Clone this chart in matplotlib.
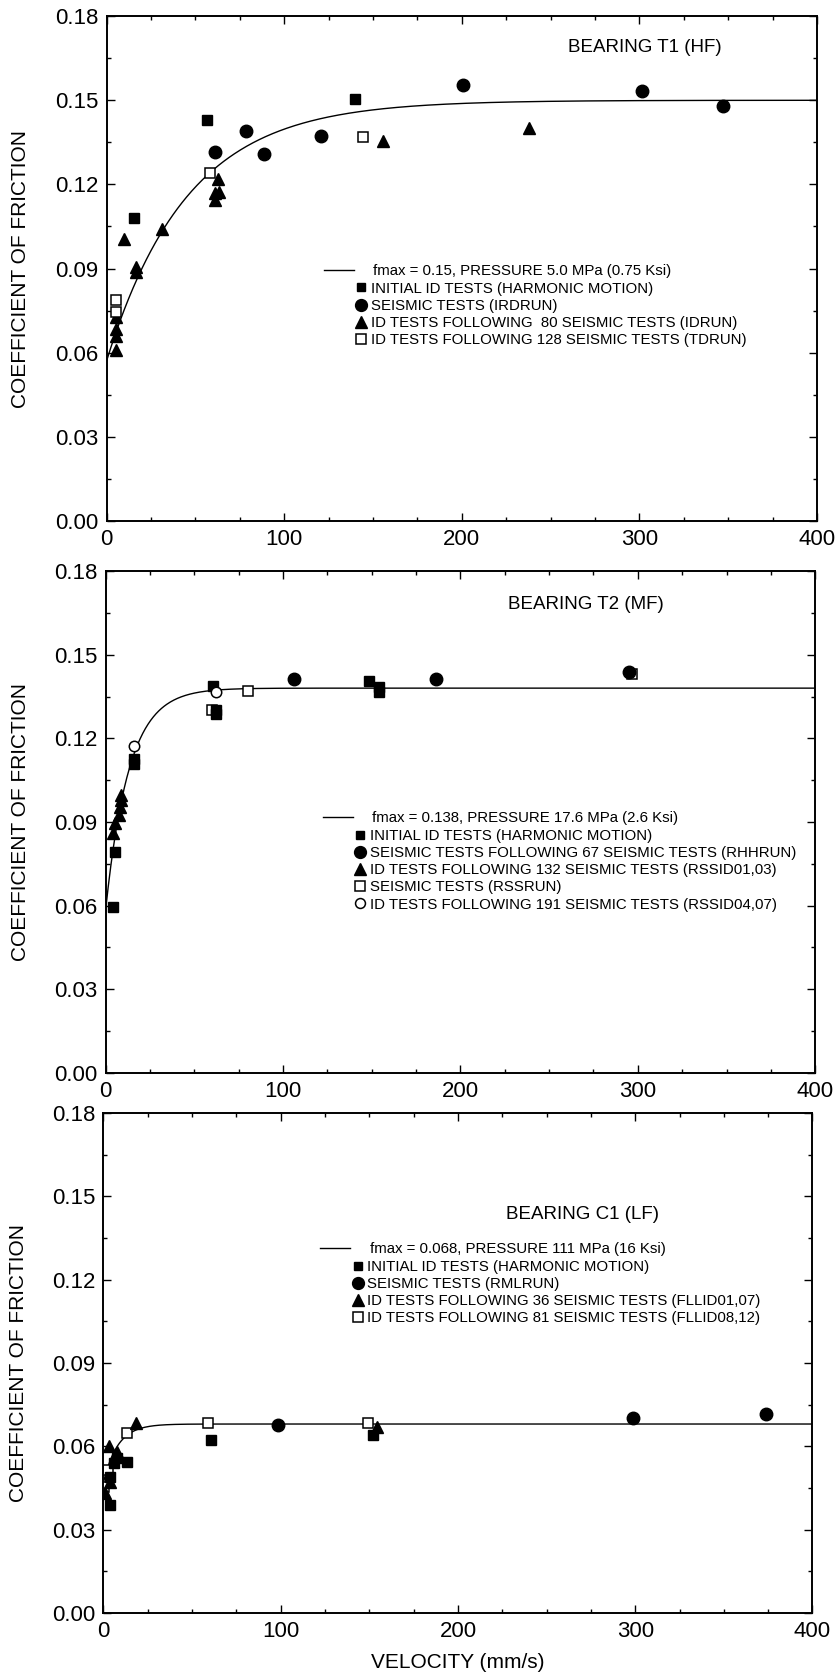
import numpy as np
import matplotlib
matplotlib.use("Agg")
import matplotlib.pyplot as plt
from matplotlib.lines import Line2D
from matplotlib.ticker import MultipleLocator, FormatStrFormatter

plt.rcParams["font.family"] = ["Liberation Sans", "DejaVu Sans"]

# ---- Bearing T1 (HF): velocity (mm/s) and coefficient of friction
t1_init_v = [56.8, 15.4, 140.1]
t1_init_f = [0.1429, 0.1079, 0.1503]
t1_seis_v = [60.9, 78.4, 88.8, 120.7, 200.7, 301.3, 347.3]
t1_seis_f = [0.1316, 0.1391, 0.1307, 0.1372, 0.1554, 0.1534, 0.148]
t1_idrun_v = [9.8, 16.4, 16.4, 31.4, 5.1, 5.1, 5.1, 5.1, 60.9, 60.9, 63.4, 62.8, 155.5, 238.0]
t1_idrun_f = [0.1005, 0.0906, 0.0889, 0.104, 0.0728, 0.0685, 0.066, 0.061,
              0.1144, 0.1168, 0.1174, 0.1221, 0.1356, 0.140]
t1_tdrun_v = [5.1, 5.1, 58.3, 144.6]
t1_tdrun_f = [0.0788, 0.0744, 0.1241, 0.137]
t1_fmax, t1_fmin, t1_rate = 0.15, 0.057, 0.022

# ---- Bearing T2 (MF)
t2_init_v = [60.5, 62.5, 62.5, 15.8, 15.8, 5.1, 4.5, 148.6, 154.2, 154.2]
t2_init_f = [0.1388, 0.1302, 0.1286, 0.1125, 0.1108, 0.0794, 0.0596, 0.1407, 0.1385, 0.1367]
t2_seis_v = [106.1, 186.0, 295.2]
t2_seis_f = [0.1412, 0.1413, 0.1439]
t2_id_v = [8.8, 8.8, 8.3, 7.8, 5.1, 4.1]
t2_id_f = [0.0997, 0.0979, 0.0955, 0.0925, 0.0895, 0.086]
t2_rss_v = [80.3, 60.0, 296.5]
t2_rss_f = [0.137, 0.1302, 0.1432]
t2_rssid_v = [15.8, 62.1]
t2_rssid_f = [0.1172, 0.1365]
t2_fmax, t2_fmin, t2_rate = 0.138, 0.058, 0.076

# ---- Bearing C1 (LF)
c1_init_v = [60.5, 7.5, 6.0, 13.5, 3.8, 3.6, 152.3]
c1_init_f = [0.0623, 0.0557, 0.0539, 0.0545, 0.049, 0.0389, 0.0641]
c1_seis_v = [98.2, 299.0, 374.0]
c1_seis_f = [0.0676, 0.0703, 0.0715]
c1_id_v = [18.6, 3.2, 7.5, 3.5, 1.0, 154.2]
c1_id_f = [0.0683, 0.0601, 0.058, 0.0473, 0.0431, 0.0671]
c1_fll_v = [13.5, 58.7, 2.3, 0.4, 149.3]
c1_fll_f = [0.0647, 0.0683, 0.0515, 0.0455, 0.0685]
c1_fmax, c1_fmin, c1_rate = 0.068, 0.047, 0.124

v_fit = np.linspace(0, 400, 801)


def friction_model(fmax, fmin, rate):
    return fmax - (fmax - fmin) * np.exp(-rate * v_fit)


SQ = dict(marker="s", ms=6.5, color="black", ls="none")
CI = dict(marker="o", ms=9, color="black", ls="none")
TR = dict(marker="^", ms=8.5, color="black", ls="none")
OSQ = dict(marker="s", ms=7, mfc="white", mec="black", mew=1.1, ls="none")
OCI = dict(marker="o", ms=7.5, mfc="white", mec="black", mew=1.1, ls="none")


def setup_axes(ax):
    ax.set_xlim(0, 400)
    ax.set_ylim(0, 0.18)
    ax.xaxis.set_major_locator(MultipleLocator(100))
    ax.xaxis.set_minor_locator(MultipleLocator(25))
    ax.yaxis.set_major_locator(MultipleLocator(0.03))
    ax.yaxis.set_minor_locator(MultipleLocator(0.015))
    ax.yaxis.set_major_formatter(FormatStrFormatter("%.2f"))
    ax.tick_params(which="both", direction="in", top=True, right=True, width=1.0)
    ax.tick_params(which="major", length=6, labelsize=16, pad=6)
    ax.tick_params(which="minor", length=3)
    for s in ax.spines.values():
        s.set_linewidth(1.4)
    ax.set_ylabel("COEFFICIENT OF FRICTION", fontsize=15)
    ax.yaxis.set_label_coords(-0.107, 0.5)


def add_legend(ax, line_label, line_y, entries, marks_y):
    line = Line2D([], [], color="black", lw=1.0)
    leg1 = ax.legend([line], [line_label], loc="center left", bbox_to_anchor=(0.306, line_y),
                     frameon=False, fontsize=10.8, handlelength=2.0, handletextpad=1.3,
                     borderpad=0, borderaxespad=0)
    ax.add_artist(leg1)
    handles = [Line2D([], [], **{**style, "ms": style["ms"] * 0.95}) for style, _ in entries]
    labels = [lab for _, lab in entries]
    ax.legend(handles, labels, loc="upper left", bbox_to_anchor=(0.350, marks_y),
              frameon=False, fontsize=10.8, handlelength=0.8, handletextpad=0.25,
              labelspacing=0.21, borderpad=0, borderaxespad=0, numpoints=1)


fig = plt.figure(figsize=(8.36, 16.77), dpi=100)
ax1 = fig.add_axes([0.1274, 0.6893, 0.850, 0.3011])
ax2 = fig.add_axes([0.1262, 0.3602, 0.849, 0.2993])
ax3 = fig.add_axes([0.1238, 0.0382, 0.848, 0.2982])

# Step 1: Bearing T1
setup_axes(ax1)
ax1.plot(v_fit, friction_model(t1_fmax, t1_fmin, t1_rate), color="black", lw=1.0)
ax1.plot(t1_init_v, t1_init_f, **SQ)
ax1.plot(t1_seis_v, t1_seis_f, **CI)
ax1.plot(t1_idrun_v, t1_idrun_f, **TR)
ax1.plot(t1_tdrun_v, t1_tdrun_f, **OSQ)
ax1.text(0.65, 0.937, "BEARING T1 (HF)", transform=ax1.transAxes, fontsize=13.5, va="center")
add_legend(ax1, f"fmax = {t1_fmax}, PRESSURE 5.0 MPa (0.75 Ksi)", 0.495,
           [(SQ, "INITIAL ID TESTS (HARMONIC MOTION)"),
            (CI, "SEISMIC TESTS (IRDRUN)"),
            (TR, "ID TESTS FOLLOWING  80 SEISMIC TESTS (IDRUN)"),
            (OSQ, "ID TESTS FOLLOWING 128 SEISMIC TESTS (TDRUN)")], 0.474)

# Step 2: Bearing T2
setup_axes(ax2)
ax2.plot(v_fit, friction_model(t2_fmax, t2_fmin, t2_rate), color="black", lw=1.0)
ax2.plot(t2_rss_v, t2_rss_f, **OSQ)
ax2.plot(t2_init_v, t2_init_f, **SQ)
ax2.plot(t2_seis_v, t2_seis_f, **CI)
ax2.plot(t2_id_v, t2_id_f, **TR)
ax2.plot(t2_rssid_v, t2_rssid_f, **OCI)
ax2.text(0.567, 0.934, "BEARING T2 (MF)", transform=ax2.transAxes, fontsize=13.5, va="center")
add_legend(ax2, f"fmax = {t2_fmax}, PRESSURE 17.6 MPa (2.6 Ksi)", 0.507,
           [(SQ, "INITIAL ID TESTS (HARMONIC MOTION)"),
            (CI, "SEISMIC TESTS FOLLOWING 67 SEISMIC TESTS (RHHRUN)"),
            (TR, "ID TESTS FOLLOWING 132 SEISMIC TESTS (RSSID01,03)"),
            (OSQ, "SEISMIC TESTS (RSSRUN)"),
            (OCI, "ID TESTS FOLLOWING 191 SEISMIC TESTS (RSSID04,07)")], 0.486)

# Step 3: Bearing C1
setup_axes(ax3)
ax3.plot(v_fit, friction_model(c1_fmax, c1_fmin, c1_rate), color="black", lw=1.0)
ax3.plot(c1_fll_v, c1_fll_f, **OSQ)
ax3.plot(c1_init_v, c1_init_f, **SQ)
ax3.plot(c1_seis_v, c1_seis_f, **CI)
ax3.plot(c1_id_v, c1_id_f, **TR)
ax3.text(0.568, 0.797, "BEARING C1 (LF)", transform=ax3.transAxes, fontsize=13.5, va="center")
add_legend(ax3, f"fmax = {c1_fmax}, PRESSURE 111 MPa (16 Ksi)", 0.728,
           [(SQ, "INITIAL ID TESTS (HARMONIC MOTION)"),
            (CI, "SEISMIC TESTS (RMLRUN)"),
            (TR, "ID TESTS FOLLOWING 36 SEISMIC TESTS (FLLID01,07)"),
            (OSQ, "ID TESTS FOLLOWING 81 SEISMIC TESTS (FLLID08,12)")], 0.706)
ax3.set_xlabel("VELOCITY (mm/s)", fontsize=15, labelpad=8)

fig.savefig("out.png", dpi=100)
